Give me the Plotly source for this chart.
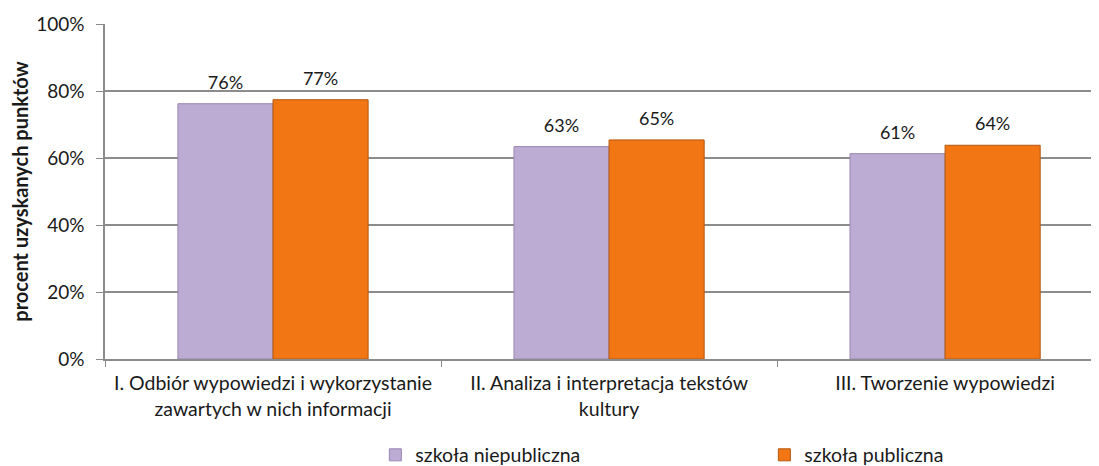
import plotly.graph_objects as go

categories = [
    "I. Odbiór wypowiedzi i wykorzystanie<br>zawartych w nich informacji",
    "II. Analiza i interpretacja tekstów<br>kultury",
    "III. Tworzenie wypowiedzi",
]
niepubliczna = [76.2, 63.4, 61.3]
publiczna = [77.4, 65.4, 63.8]

FONT = "Lato"
GRID = "#8c8c8c"
TXT = "#1a1a1a"

series = [
    ("szkoła niepubliczna", niepubliczna, "#BCABD3", "#9A86B3"),
    ("szkoła publiczna", publiczna, "#F27613", "#B35710"),
]

# page body has an 8px margin, so the figure is a bit smaller than the window
fig = go.Figure()
for name, vals, color, edge in series:
    fig.add_trace(go.Bar(
        x=categories, y=vals, name=name,
        marker=dict(color=color, line=dict(color=edge, width=1)),
        hoverinfo="skip",
    ))
# value labels as grouped text points so they sit a bit above the bars
for name, vals, color, edge in series:
    fig.add_trace(go.Scatter(
        x=categories, y=vals, mode="markers+text", showlegend=False,
        text=[f"{v:.0f}%" for v in vals], textposition="top center",
        textfont=dict(size=18, color=TXT),
        marker=dict(size=15, opacity=0), cliponaxis=False,
    ))

fig.update_layout(
    width=1091, height=458,
    margin=dict(l=97, r=0, t=16, b=107, autoexpand=False),
    paper_bgcolor="white", plot_bgcolor="white",
    font=dict(family=FONT, size=18, color=TXT),
    barmode="group", bargap=0.434, bargroupgap=0,
    scattermode="group", scattergap=0.434,
    legend=dict(
        orientation="h", x=0.272, xanchor="left", y=-0.287, yanchor="middle",
        entrywidth=344, font=dict(size=19.5),
    ),
)
fig.update_xaxes(
    range=[-0.5, 2.458], automargin=False, tickangle=0,
    showline=True, linecolor=GRID, linewidth=1.5,
    ticks="outside", tickson="boundaries", ticklen=6, tickcolor=GRID,
    tickfont=dict(size=19.5), ticklabelstandoff=6,
)
fig.update_yaxes(
    range=[0, 100], dtick=20, ticksuffix="%", automargin=False,
    showgrid=True, gridcolor=GRID, gridwidth=1.5,
    showline=True, linecolor=GRID, linewidth=1.5,
    ticks="outside", ticklen=7, tickcolor=GRID,
    tickfont=dict(size=19), ticklabelstandoff=8,
    title=dict(text="<b>procent uzyskanych punktów</b>", font=dict(size=20), standoff=16),
    zeroline=False,
)

fig.write_html("out.html")
